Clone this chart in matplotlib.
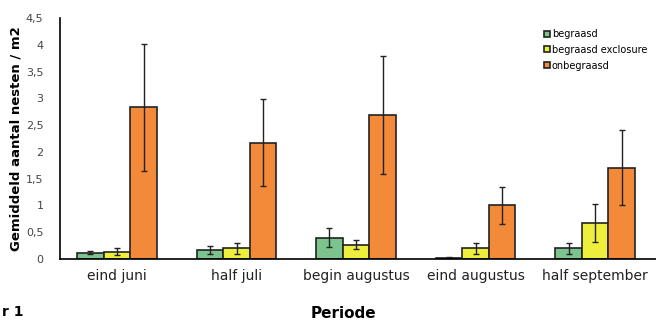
import matplotlib
matplotlib.use("Agg")
import matplotlib.pyplot as plt
import numpy as np
from matplotlib.lines import Line2D

categories = ["eind juni", "half juli", "begin augustus", "eind augustus", "half september"]
series_names = ["begraasd", "begraasd exclosure", "onbegraasd"]
begraasd = [0.12, 0.17, 0.40, 0.02, 0.20]
begraasd_err = [0.03, 0.07, 0.18, 0.01, 0.10]
exclosure = [0.14, 0.20, 0.27, 0.20, 0.67]
exclosure_err = [0.07, 0.10, 0.08, 0.10, 0.35]
onbegraasd = [2.83, 2.17, 2.69, 1.00, 1.70]
onbegraasd_err = [1.18, 0.81, 1.10, 0.35, 0.70]
yticks = [0, 0.5, 1, 1.5, 2, 2.5, 3, 3.5, 4, 4.5]
ytick_labels = ["0", "0,5", "1", "1,5", "2", "2,5", "3", "3,5", "4", "4,5"]

colors = ["#7cc48e", "#eeee3c", "#f28a3a"]

fig = plt.figure(figsize=(6.56, 3.22), dpi=100)
ax = fig.add_axes([60/656, 1-259/322, 596/656, 241/322])

x = np.arange(len(categories))
w = 0.222
vals = [begraasd, exclosure, onbegraasd]
errs = [begraasd_err, exclosure_err, onbegraasd_err]
for i, (v, e, c) in enumerate(zip(vals, errs, colors)):
    ax.bar(x + (i-1)*w, v, w, color=c, edgecolor="#222222", linewidth=1.2,
           yerr=e, error_kw=dict(ecolor="#222222", elinewidth=1.0, capsize=2.5, capthick=1.0), zorder=2)

ax.set_xlim(-0.477, 4.51)
ax.set_ylim(0, 4.5)
ax.set_yticks(yticks)
ax.set_yticklabels(ytick_labels, fontsize=8, color="#444444")
ax.set_xticks(x + 0)
ax.set_xticklabels(categories, fontsize=10, color="#222222")
ax.tick_params(axis="y", length=0, pad=12)
ax.tick_params(axis="x", length=0, pad=7)
for s in ["top", "right"]:
    ax.spines[s].set_visible(False)
ax.spines["left"].set_linewidth(1.2)
ax.spines["bottom"].set_linewidth(1.2)

ax.set_ylabel("Gemiddeld aantal nesten / m2", fontsize=9.5, fontweight="bold", labelpad=2)
fig.text(343/656, 1-313/322, "Periode", ha="center", va="center", fontsize=11, fontweight="bold")
fig.text(0.003, 1-312/322, "r 1", ha="left", va="center", fontsize=10, fontweight="bold")

handles = [Line2D([], [], marker="s", linestyle="none", markersize=4.5, markerfacecolor=c,
                  markeredgecolor="#222222", markeredgewidth=1.2) for c in colors]
leg = ax.legend(handles, series_names, loc="upper left", bbox_to_anchor=(484/596, 1-(29-18)/241),
                frameon=False, fontsize=7, handlelength=0.6, handletextpad=0.2, labelspacing=0.6,
                borderaxespad=0, borderpad=0)

fig.savefig("out.png", dpi=100)
